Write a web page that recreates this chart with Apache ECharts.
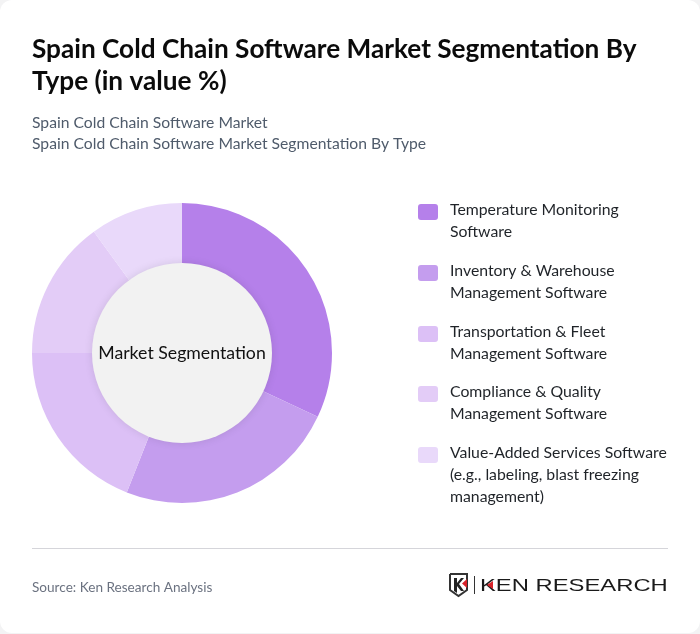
<!DOCTYPE html>
<html><head><meta charset="utf-8">
<style>html,body{margin:0;padding:0;background:#f3f3f4}#c{width:700px;height:634px}</style>
<script src="https://cdn.jsdelivr.net/npm/echarts@6/dist/echarts.min.js"></script>
</head><body><div id="c"></div>
<script>
const titleText = 'Spain Cold Chain Software Market Segmentation By\nType (in value %)';
const subtitleText = 'Spain Cold Chain Software Market\nSpain Cold Chain Software Market Segmentation By Type';
const sourceText = 'Source: Ken Research Analysis';
const centerText = 'Market Segmentation';
const categories = ['Temperature Monitoring Software','Inventory & Warehouse Management Software','Transportation & Fleet Management Software','Compliance & Quality Management Software','Value-Added Services Software (e.g., labeling, blast freezing management)'];
const legendLines = ['Temperature Monitoring\nSoftware','Inventory & Warehouse\nManagement Software','Transportation & Fleet\nManagement Software','Compliance & Quality\nManagement Software','Value-Added Services Software\n(e.g., labeling, blast freezing\nmanagement)'];
const values = [32,24,19,15,10];
const colors = ['#b580ea','#c49dee','#dcc0f6','#e3ccf7','#e9d9fa'];
const legendTops = [199,260,321,381,442];

const F = 'Lato, "Noto Sans", sans-serif';
function swatch(h){ // rounded square at the first text line, transparent points stretch the box to the text height
  return 'path://M0 0L0 0ZM20 '+h+'L20 '+h+'Z'+
  'M3 5H17Q20 5 20 8V18Q20 21 17 21H3Q0 21 0 18V8Q0 5 3 5Z';
}
const chart = echarts.init(document.getElementById('c'),null,{renderer:'canvas'});
chart.setOption({
  animation:false,
  title:[
    {text:titleText,left:32,top:34,padding:0,textStyle:{fontFamily:F,fontSize:26.2,fontWeight:700,color:'#0b0b0b',lineHeight:32}},
    {text:subtitleText,left:32,top:112,padding:0,textStyle:{fontFamily:F,fontSize:15.7,fontWeight:400,color:'#4f5b6b',lineHeight:21}},
    {text:sourceText,left:32,top:580,padding:0,textStyle:{fontFamily:F,fontSize:13.6,fontWeight:400,color:'#6b7280',lineHeight:16}}
  ],
  legend:categories.map((c,i)=>{
    const h = legendLines[i].split('\n').length*22;
    return {
      data:[c],left:418,top:legendTops[i],padding:0,orient:'vertical',
      itemWidth:20,itemHeight:h,itemGap:0,icon:swatch(h),selectedMode:false,
      formatter:()=>legendLines[i],
      textStyle:{fontFamily:F,fontSize:15.8,color:'#1f2328',lineHeight:22,padding:[0,0,0,7]}
    };
  }),
  series:[
    {type:'pie',center:[182,353],radius:[88,150],startAngle:90,clockwise:true,silent:true,
     label:{show:false},labelLine:{show:false},itemStyle:{borderWidth:0},
     data:categories.map((c,i)=>({name:c,value:values[i],itemStyle:{color:colors[i]}}))},
    {type:'pie',center:[182,353],radius:[0,90],silent:true,z:5,
     label:{show:true,position:'center',formatter:centerText,fontFamily:F,fontSize:17.7,color:'#111111'},
     labelLine:{show:false},
     itemStyle:{color:'#f2f2f2',shadowBlur:8,shadowColor:'rgba(0,0,0,0.10)'},
     data:[{name:centerText,value:1}]}
  ],
  graphic:[
    {type:'rect',z:-10,silent:true,shape:{x:0,y:0,width:700,height:633,r:12},style:{fill:'#ffffff'}},
    {type:'line',silent:true,shape:{x1:32,y1:548.5,x2:668,y2:548.5},style:{stroke:'#d5d5da',lineWidth:1}},
    {type:'group',silent:true,x:449,y:573,children:[
      {type:'polyline',shape:{points:[[1,1],[18,1],[18,17],[9.5,23],[1,17],[1,1]]},style:{stroke:'#333',lineWidth:2,fill:'none'}},
      {type:'polygon',shape:{points:[[5,5],[8,5],[8,10],[12,5],[15,5],[10,11],[15,18],[12,18],[8,13],[8,20],[5,18]]},style:{fill:'#222'}},
      {type:'polygon',shape:{points:[[18,6],[18,15],[13,10.5]]},style:{fill:'#d8232a'}},
      {type:'line',shape:{x1:25.5,y1:3,x2:25.5,y2:21},style:{stroke:'#333',lineWidth:1}},
      {type:'text',x:31,y:5,style:{text:'KEN RESEARCH',fontFamily:'"Liberation Sans",sans-serif',fontSize:17,fill:'#1a1a1a'},scaleX:1.4},
      {type:'polygon',shape:{points:[[44,8],[44,16],[38,12]]},style:{fill:'#d8232a'}}
    ]}
  ]
});
</script></body></html>
